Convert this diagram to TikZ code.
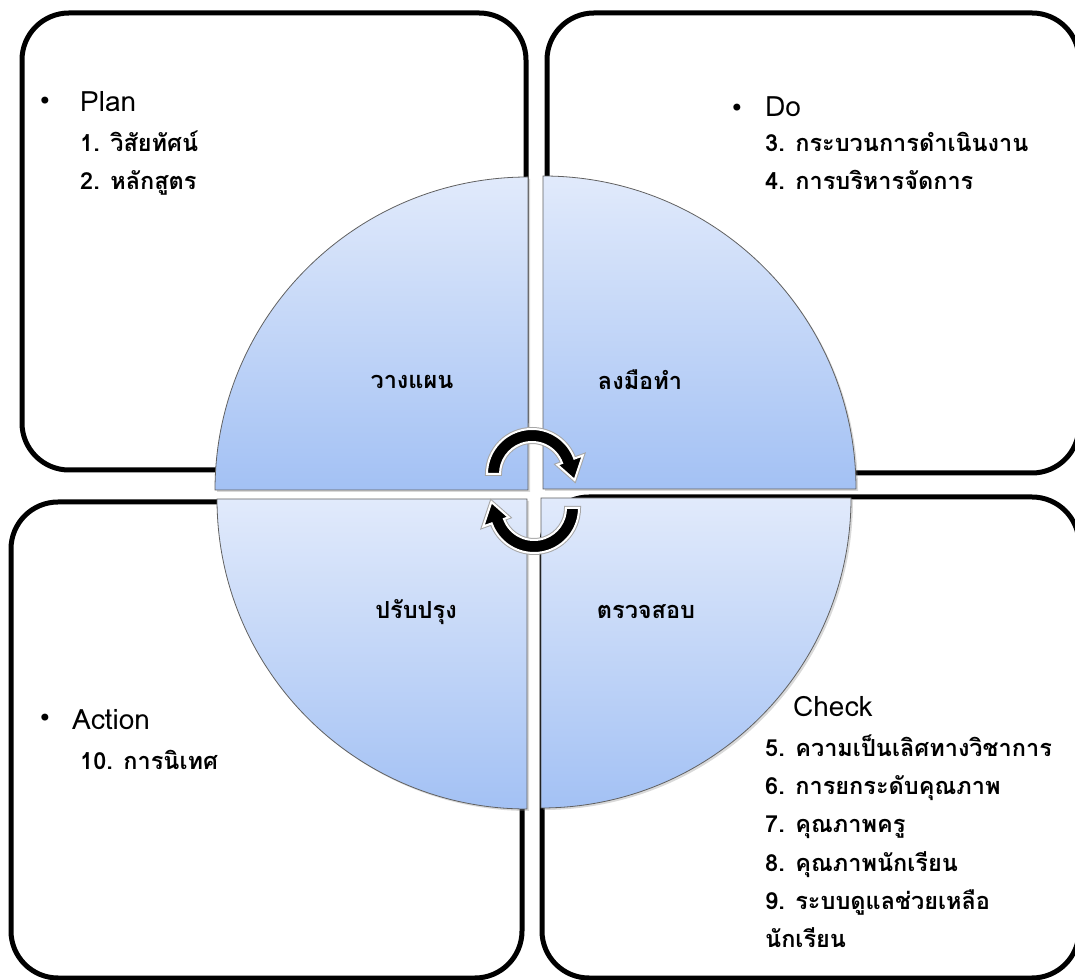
\documentclass[tikz,border=0pt]{standalone}
\usepackage{fontspec}
\usetikzlibrary{shadows}
\newfontfamily\thai[Script=Thai]{Loma}
\newfontfamily\dv{DejaVu Sans}
\definecolor{qlight}{HTML}{E1EAFB}
\definecolor{qdark}{HTML}{A3C1F4}
\begin{document}
\begin{tikzpicture}[x=1pt,y=1pt,
  box/.style={line width=5pt, rounded corners=47pt},
  quad/.style={draw=gray!75!black, line width=0.8pt, top color=qlight, bottom color=qdark,
    drop shadow={opacity=0.3,shadow xshift=2pt,shadow yshift=-2pt}},
  head/.style={font=\thai\fontsize{28}{32}\selectfont, anchor=base west, inner sep=0pt},
  item/.style={font=\thai\bfseries\fontsize{23.5}{28}\selectfont, anchor=base west, inner sep=0pt},
  lab/.style={font=\thai\bfseries\fontsize{23.5}{28}\selectfont, inner sep=0pt},
  bul/.style={font=\dv\fontsize{24}{28}\selectfont, inner sep=0pt},
  cyc/.style={fill=black, draw=white, line width=2pt,
    preaction={draw=gray!70, line width=4pt}}
]
\useasboundingbox (0,0) rectangle (1075,979);
\clip (0,0) rectangle (1075,979);
% boxes
\draw[box] (22,509) rectangle (526,966);
\draw[box] (547,506) rectangle (1079,966);
\draw[box] (11,1) rectangle (522,477);
\draw[box] (542,1) rectangle (1079,482);
% Plan
\node[bul] (bp) at (45,876) {•};
\node[head] (plan) at (80,867) {Plan};
\node[item] (p1) at (80,827) {1. วิสัยทัศน์};
\node[item] (p2) at (80,789) {2. หลักสูตร};
% Do
\node[bul] (bd) at (737,869) {•};
\node[head] (do) at (765,862) {Do};
\node[item] (d3) at (765,827) {3. กระบวนการดำเนินงาน};
\node[item] (d4) at (765,789) {4. การบริหารจัดการ};
% Check
\node[head] (check) at (793,262) {Check};
\node[item] (c5) at (765,222) {5. ความเป็นเลิศทางวิชาการ};
\node[item] (c6) at (765,184) {6. การยกระดับคุณภาพ};
\node[item] (c7) at (765,146) {7. คุณภาพครู};
\node[item] (c8) at (765,107) {8. คุณภาพนักเรียน};
\node[item] (c9) at (765,69) {9. ระบบดูแลช่วยเหลือ};
\node[item] (c9b) at (765,32) {นักเรียน};
% Action
\node[bul] (ba) at (45,259) {•};
\node[head] (action) at (72,249) {Action};
\node[item] (a10) at (80,209) {10. การนิเทศ};
% quadrants
\path[quad] (528,489) -- ++(-313,0) arc[start angle=180,end angle=90,radius=313] -- cycle;
\path[quad] (543,490) -- ++(0,313) arc[start angle=90,end angle=0,radius=313] -- cycle;
\path[quad] (527,480) -- ++(0,-310) arc[start angle=270,end angle=180,radius=310] -- cycle;
\path[quad] (541,481) -- ++(310,0) arc[start angle=0,end angle=-90,radius=310] -- cycle;
% labels
\node[lab] (q1) at (412,597) {วางแผน};
\node[lab] (q2) at (640,599) {ลงมือทำ};
\node[lab] (q3) at (416,367) {ปรับปรุง};
\node[lab] (q4) at (646,367) {ตรวจสอบ};
% cycle arrows
\begin{scope}[shift={(532,505)}]
\path[cyc] (180:45) arc[start angle=180,end angle=20,radius=45] -- (20:54) -- (-8:43) -- (20:27) -- (20:32) arc[start angle=20,end angle=180,radius=32] -- cycle;
\end{scope}
\begin{scope}[shift={(534,471)}]
\path[cyc] (0:45) arc[start angle=0,end angle=-160,radius=45] -- (-160:54) -- (172:43) -- (-160:27) -- (-160:32) arc[start angle=-160,end angle=0,radius=32] -- cycle;
\end{scope}
\end{tikzpicture}
\end{document}
